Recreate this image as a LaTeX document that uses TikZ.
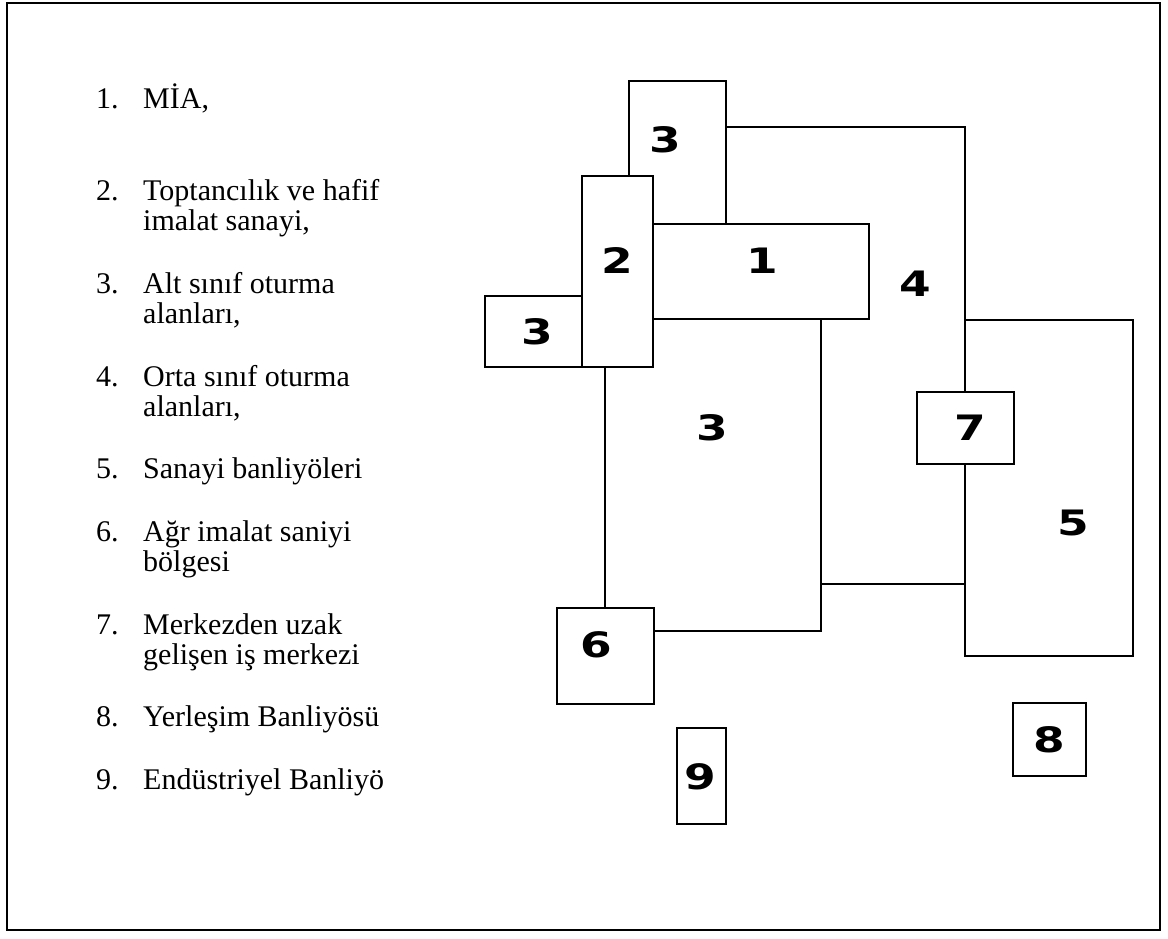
\documentclass[tikz,border=0pt]{standalone}
\usepackage{fontspec}
\setmainfont{Liberation Serif}
\newfontfamily\zonefont{DejaVu Sans}
\newcommand\zonedigit[1]{\scalebox{1.3}[1]{#1}}
\begin{document}
\begin{tikzpicture}[x=1pt,y=-1pt,
  frame/.style={line width=2pt},
  zone/.style={line width=1.7pt, line join=miter},
  whitebox/.style={zone, fill=white},
  lab/.style={inner sep=0pt, font=\zonefont\bfseries\fontsize{35}{35}\selectfont},
  itemtext/.style={anchor=base west, inner sep=0pt, font=\fontsize{30}{34}\selectfont},
]
\useasboundingbox (0,0) rectangle (1168,938);
\draw[frame] (7,2.5) rectangle (1160,930);

% legend
\node[itemtext] (n1) at (96,108) {1.};
\node[itemtext] (t1) at (143,108) {MİA,};
\node[itemtext] (n2) at (96,200) {2.};
\node[itemtext] (t2) at (143,200) {Toptancılık ve hafif};
\node[itemtext] (t2b) at (143,230) {imalat sanayi,};
\node[itemtext] (n3) at (96,293) {3.};
\node[itemtext] (t3) at (143,293) {Alt sınıf oturma};
\node[itemtext] (t3b) at (143,323) {alanları,};
\node[itemtext] (n4) at (96,386) {4.};
\node[itemtext] (t4) at (143,386) {Orta sınıf oturma};
\node[itemtext] (t4b) at (143,416) {alanları,};
\node[itemtext] (n5) at (96,478) {5.};
\node[itemtext] (t5) at (143,478) {Sanayi banliyöleri};
\node[itemtext] (n6) at (96,541) {6.};
\node[itemtext] (t6) at (143,541) {Ağr imalat saniyi};
\node[itemtext] (t6b) at (143,571) {bölgesi};
\node[itemtext] (n7) at (96,634) {7.};
\node[itemtext] (t7) at (143,634) {Merkezden uzak};
\node[itemtext] (t7b) at (143,664) {gelişen iş merkezi};
\node[itemtext] (n8) at (96,726) {8.};
\node[itemtext] (t8) at (143,726) {Yerleşim Banliyösü};
\node[itemtext] (n9) at (96,789) {9.};
\node[itemtext] (t9) at (143,789) {Endüstriyel Banliyö};

% zones
\draw[zone] (629,176) -- (629,81) -- (726,81) -- (726,224);
\draw[zone] (726,127) -- (965,127) -- (965,320);
\draw[zone] (965,320) rectangle (1133,656);
\draw[whitebox] (917,392) rectangle (1014,464);
\draw[zone] (582,176) rectangle (653,367);
\draw[zone] (653,224) rectangle (869,319);
\draw[zone] (485,296) rectangle (582,367);
\draw[zone] (605,367) -- (605,608);
\draw[zone] (821,319) -- (821,631) -- (654,631);
\draw[zone] (821,584) -- (965,584);
\draw[zone] (557,608) rectangle (654,704);
\draw[zone] (677,728) rectangle (726,824);
\draw[zone] (1013,703) rectangle (1086,776);

% labels
\node[lab] (l3a) at (665,140) {\zonedigit{3}};
\node[lab] (l2) at (617,261) {\zonedigit{2}};
\node[lab] (l1) at (762,261) {\zonedigit{1}};
\node[lab] (l4) at (915,284) {\zonedigit{4}};
\node[lab] (l3b) at (537,332) {\zonedigit{3}};
\node[lab] (l3c) at (712,428) {\zonedigit{3}};
\node[lab] (l7) at (970,428) {\zonedigit{7}};
\node[lab] (l5) at (1073,523) {\zonedigit{5}};
\node[lab] (l6) at (596,645) {\zonedigit{6}};
\node[lab] (l9) at (700,777) {\zonedigit{9}};
\node[lab] (l8) at (1049,740) {\zonedigit{8}};
\end{tikzpicture}
\end{document}
